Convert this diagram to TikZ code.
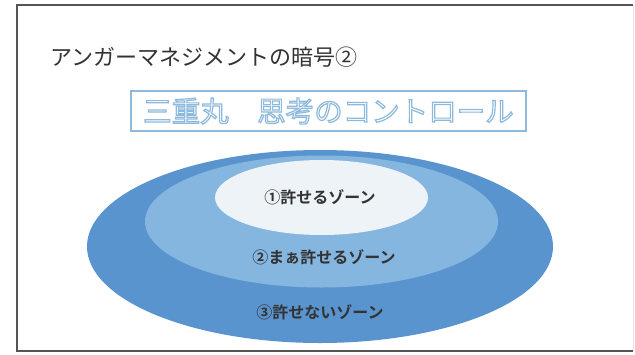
\documentclass[tikz,border=0pt]{standalone}
\usepackage{fontspec}
\newfontfamily\jp{Noto Sans CJK JP}
\newfontfamily\jpb{Noto Sans CJK JP Bold}
\definecolor{framegray}{HTML}{555555}
\definecolor{boxblue}{HTML}{8DB9DD}
\definecolor{outerblue}{HTML}{5A94CE}
\definecolor{midblue}{HTML}{85B6E0}
\definecolor{innerwhite}{HTML}{EEF3F7}
\definecolor{txtgray}{HTML}{333333}
\newcommand{\hollowtext}[1]{{\color{white}\special{pdf:code q 2 Tr 1.2 w 0.553 0.725 0.867 RG}#1\special{pdf:code Q}}}
\tikzset{
  zonelabel/.style={font=\jpb\fontsize{16}{18}\selectfont, text=txtgray, inner sep=0pt},
}
\begin{document}
\begin{tikzpicture}[x=1pt,y=-1pt]
\useasboundingbox (0,0) rectangle (635,354);
\fill[white] (0,0) rectangle (635,354);
% frame
\draw[framegray, line width=2.2pt] (633,5) -- (17,5) -- (17,351) -- (633,351);
\draw[black!10, line width=0.8pt] (633,5) -- (633,351);
% title
\node[anchor=west, inner sep=0pt, text=txtgray, font=\jp\fontsize{22}{24}\selectfont] (title) at (50,57) {アンガーマネジメントの暗号②};
% sub-title box
\node[draw=boxblue, line width=2pt, minimum width=395pt, minimum height=40pt, inner sep=0pt,
      font=\jp\fontsize{28.5}{30}\selectfont] (sub) at (328.5,111)
  {\hollowtext{三重丸　思考のコントロール}};
% ellipses
\fill[outerblue] (320,246.5) ellipse [x radius=233, y radius=96.5];
\fill[midblue] (321.5,221.5) ellipse [x radius=176.5, y radius=66];
\fill[innerwhite] (321.5,197.5) ellipse [x radius=106.5, y radius=37.5];
% labels
\node[zonelabel] (z1) at (320,197) {①許せるゾーン};
\node[zonelabel] (z2) at (324,257) {②まぁ許せるゾーン};
\node[zonelabel] (z3) at (320,312) {③許せないゾーン};
\end{tikzpicture}
\end{document}
